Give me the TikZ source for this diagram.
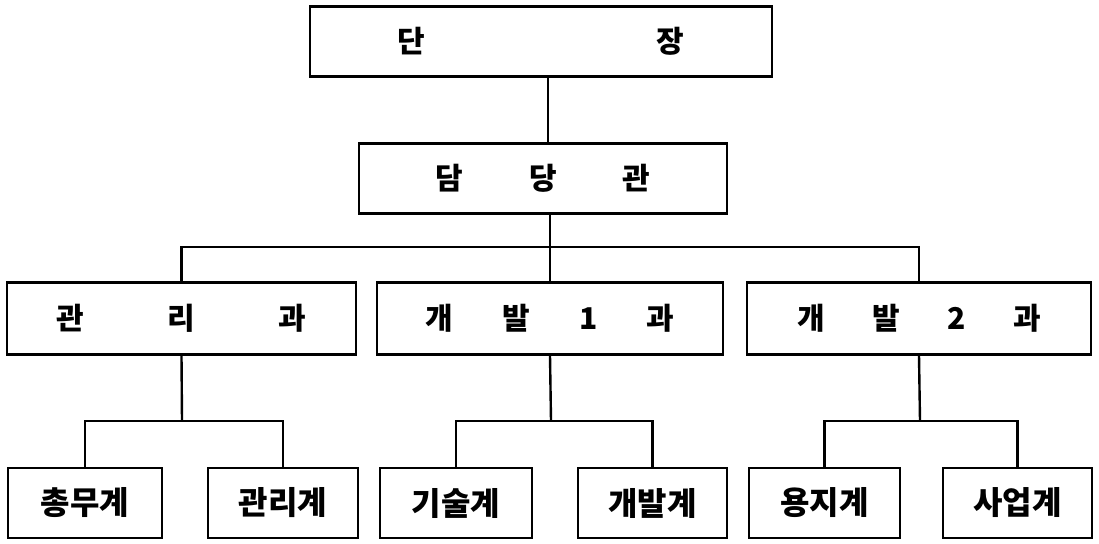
\documentclass[tikz,border=0pt]{standalone}
\usepackage{fontspec}
\newfontfamily\kr{Noto Sans CJK KR}
\begin{document}
\begin{tikzpicture}[x=1pt,y=-1pt,line width=2.4pt,
  box/.style={draw,rectangle,inner sep=0pt,font=\kr\bfseries\fontsize{30}{30}\selectfont},
  bigbox/.style={box,minimum height=70pt},
  midbox/.style={box,minimum height=72pt},
  leafbox/.style={box,minimum height=70pt,font=\kr\bfseries\fontsize{32}{32}\selectfont},
  wire/.style={draw,line width=2.4pt}]
\useasboundingbox (0,0) rectangle (1099,543);
% top levels
\node[bigbox,minimum width=462pt] (dan) at (541,41.5) {\makebox[287pt]{단\hfill 장}};
\node[bigbox,minimum width=368pt] (dam) at (543,178.5) {\makebox[215pt]{담\hfill 당\hfill 관}};
% departments
\node[midbox,minimum width=349pt] (gwa1) at (181.5,318.5) {\makebox[250pt]{관\hfill 리\hfill 과}};
\node[midbox,minimum width=346pt] (gwa2) at (550,318.5) {\makebox[249pt]{개\hfill 발\hfill 1\hfill 과}};
\node[midbox,minimum width=344pt] (gwa3) at (919,318.5) {\makebox[244pt]{개\hfill 발\hfill 2\hfill 과}};
% sections
\node[leafbox,minimum width=154pt] (s1) at (85,503) {총무계};
\node[leafbox,minimum width=150pt] (s2) at (283,503) {관리계};
\node[leafbox,minimum width=152pt] (s3) at (456,503) {기술계};
\node[leafbox,minimum width=149pt] (s4) at (652.5,503) {개발계};
\node[leafbox,minimum width=151pt] (s5) at (824.5,503) {용지계};
\node[leafbox,minimum width=149pt] (s6) at (1017.5,503) {사업계};
% junction coordinates
\coordinate (j0) at (548,76);
\coordinate (j1) at (548,144);
\coordinate (h1) at (550,247);
\coordinate (b1) at (182,421);
\coordinate (b2) at (551,421);
\coordinate (b3) at (920,421);
% connectors
\draw[wire] (j0) -- (j1);
\draw[wire] (dam.south -| h1) -- (h1);
\draw[wire] (gwa1.north) |- (h1) -| (gwa3.north);
\draw[wire] (gwa2.north) -- (gwa2.north |- h1);
\draw[wire] (gwa1.south) -- (b1);
\draw[wire] (gwa2.south) -- (b2);
\draw[wire] (gwa3.south) -- (b3);
\draw[wire] (s1.north) |- (b1) -| (s2.north);
\draw[wire] (s3.north) |- (b2) -| (s4.north);
\draw[wire] (s5.north) |- (b3) -| (s6.north);
\end{tikzpicture}
\end{document}
